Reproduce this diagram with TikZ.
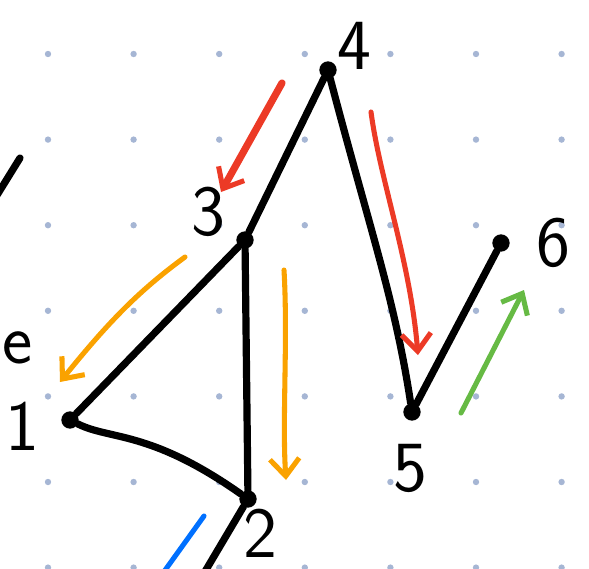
\documentclass[tikz,border=0pt]{standalone}
\usepackage{tikz}
\usetikzlibrary{arrows.meta}

\definecolor{gridblue}{RGB}{166,182,212}
\definecolor{penred}{RGB}{236,58,38}
\definecolor{penorange}{RGB}{250,162,0}
\definecolor{pengreen}{RGB}{102,186,68}
\definecolor{penblue}{RGB}{0,112,255}

\begin{document}
\begin{tikzpicture}[x=0.75pt, y=-0.75pt,
  vtx/.style={circle, fill=black, inner sep=0pt, minimum size=13pt},
  lbl/.style={font=\sffamily\fontsize{54}{54}\selectfont, inner sep=0pt},
  edge/.style={line width=5.4pt, line cap=round, line join=round},
  pen/.style={line width=3.8pt, line cap=round, line join=round,
              -{Straight Barb[length=13pt, width=22pt, line width=3.8pt]}}
]
\useasboundingbox (0,0) rectangle (589,568);
% ---- dotted paper ----
\foreach \gx in {48,133.6,219.2,304.8,390.4,476,561.6}{
  \foreach \gy in {54,139.6,225.2,310.8,396.4,482,567.6}{
    \fill[gridblue] (\gx,\gy) circle (2.4pt);
  }
}
% ---- vertices ----
\node[vtx] (v1) at (70,420) {};
\node[vtx] (v2) at (248,499) {};
\node[vtx] (v3) at (245,240) {};
\node[vtx] (v4) at (328,70) {};
\node[vtx] (v5) at (412,412) {};
\node[vtx] (v6) at (501,243) {};
% ---- labels ----
\node[lbl] (l1) at (22,426) {1};
\node[lbl, text depth=0pt] (l2) at (260,533) {2};
\node[lbl] (l3) at (208,212) {3};
\node[lbl] (l4) at (354,46) {4};
\node[lbl] (l5) at (410,468) {5};
\node[lbl] (l6) at (553,243) {6};
\node[lbl, anchor=east] (le) at (33,348) {e};
% ---- edges ----
\draw[edge] (v1) -- (v3);
\draw[edge] (v1) .. controls (110,440) and (150,430) .. (v2);
\draw[edge] (v3) -- (v2);
\draw[edge] (v3) -- (v4);
\draw[edge] (v4) .. controls (370,230) and (395,300) .. (v5);
\draw[edge] (v5) -- (v6);
\coordinate (off2) at (200,580);
\draw[edge] (v2) -- (off2);
\coordinate (topl) at (20,158);
\coordinate (topr) at (-6,200);
\draw[edge] (topl) -- (topr);
% ---- traversal arrows ----
\coordinate (ra0) at (282,83);
\coordinate (ra1) at (221,192);
\draw[pen, penred, line width=5.4pt] (ra0) -- (ra1);
\coordinate (rb0) at (371,112);
\coordinate (rb1) at (418,355);
\draw[pen, penred] (rb0) .. controls (380,180) and (410,260) .. (rb1);
\coordinate (oa0) at (185,257);
\coordinate (oa1) at (60,382);
\draw[pen, penorange] (oa0) .. controls (140,290) and (110,320) .. (oa1);
\coordinate (ob0) at (284,270);
\coordinate (ob1) at (286,480);
\draw[pen, penorange] (ob0) .. controls (288,340) and (282,420) .. (ob1);
\coordinate (ga0) at (461,413);
\coordinate (ga1) at (524,290);
\draw[pen, pengreen] (ga0) -- (ga1);
\coordinate (ba0) at (204,516);
\coordinate (ba1) at (158,580);
\draw[line width=3.8pt, line cap=round, penblue] (ba0) -- (ba1);
\end{tikzpicture}
\end{document}
